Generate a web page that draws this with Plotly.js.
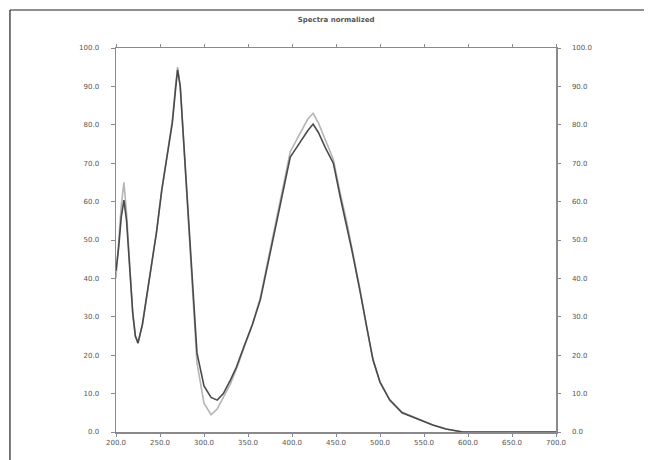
<!DOCTYPE html>
<html>
<head>
<meta charset="utf-8">
<script src="https://cdn.plot.ly/plotly-3.0.1.min.js"></script>
<style>html,body{margin:0;padding:0;background:#fff;}#chart{width:649px;height:460px;}</style>
</head>
<body>
<div id="chart"></div>
<script>
const wavelength = [200,203,206,209,212,216,219,222,225,230,239,246,252,258,264,268,270,273,278,284,292,300,308,315,322,330,337,345,355,364,372,380,390,398,405,412,418,424,430,438,447,455,462,468,477,485,492,500,511,525,545,560,575,594,620,650,680,700];
const spectrumA = [42,48,56,60.4,55,41.4,31,25,23.2,28,41.4,52,63,72,80.5,90,94.3,90,71.6,50,20.6,12,9,8.3,10,13.5,17,22,28,34.4,43,52,63,71.6,74,76.5,78.5,80.2,78,74,70,61,54,47.4,37,27,18.8,13,8.3,5,3.1,1.8,0.8,0,0,0,0,0];
const spectrumB = [40,50,59,65,57,42,31,25,23,28,41.4,52,63,72,81,91,95,90,71,48,18,7.5,4.5,6,9,12.5,16.5,21.5,28,35,44,53,64.5,73,76,79,81.5,83,80.5,76,71,62,55,48,37.5,27,19,13,8.5,5.2,3.2,1.8,0.8,0,0,0,0,0];
const chartTitle = "Spectra normalized";
const yTicks = [0,10,20,30,40,50,60,70,80,90,100];
const xTicks = [200,250,300,350,400,450,500,550,600,650,700];

const traces = [
  {x: wavelength, y: spectrumB, mode: 'lines', line: {color: '#b5b5b5', width: 1.6}, hoverinfo: 'skip'},
  {x: wavelength, y: spectrumA, mode: 'lines', line: {color: '#4a4a4a', width: 1.6}, hoverinfo: 'skip'},
  {x: [wavelength[0]], y: [spectrumA[0]], yaxis: 'y2', mode: 'markers', marker: {opacity: 0}, hoverinfo: 'skip'}
];

const axisFont = {family: 'DejaVu Sans, sans-serif', size: 7, color: '#555'};
const layout = {
  width: 649, height: 460,
  margin: {l: 116, r: 93, t: 48, b: 28, pad: 0},
  paper_bgcolor: '#ffffff', plot_bgcolor: '#ffffff',
  showlegend: false,
  title: {text: '<b>' + chartTitle + '</b>', font: {family: 'DejaVu Sans, sans-serif', size: 7, color: '#555'}, x: 0.518, xanchor: 'center', y: 0.957, yanchor: 'middle'},
  xaxis: {range: [200, 700], tickvals: xTicks, ticktext: xTicks.map(v => v.toFixed(1)), showgrid: false, zeroline: false,
    showline: true, linecolor: '#8a8a8a', linewidth: 1.5, mirror: 'ticks', ticks: 'outside', ticklen: 3, tickcolor: '#8a8a8a',
    tickfont: axisFont},
  yaxis: {range: [0, 100], tickvals: yTicks, ticktext: yTicks.map(v => v.toFixed(1)), showgrid: false, zeroline: false,
    showline: true, linecolor: '#8a8a8a', linewidth: 1.5, ticks: 'outside', ticklen: 4, tickcolor: '#8a8a8a',
    tickfont: axisFont, ticklabelstandoff: 10},
  yaxis2: {range: [0, 100], overlaying: 'y', side: 'right', tickvals: yTicks, ticktext: yTicks.map(v => v.toFixed(1)), showgrid: false, zeroline: false,
    showline: true, linecolor: '#8a8a8a', linewidth: 1.5, ticks: 'outside', ticklen: 3, tickcolor: '#8a8a8a',
    tickfont: axisFont, ticklabelstandoff: 10},
  shapes: [
    {type: 'line', xref: 'paper', yref: 'paper', x0: -0.241, x1: 1.2, y0: 1.099, y1: 1.099, line: {color: '#222', width: 1.2}},
    {type: 'line', xref: 'paper', yref: 'paper', x0: -0.241, x1: -0.241, y0: 1.099, y1: -0.08, line: {color: '#222', width: 1.2}}
  ]
};

Plotly.newPlot('chart', traces, layout, {displayModeBar: false, staticPlot: true});
</script>
</body>
</html>
